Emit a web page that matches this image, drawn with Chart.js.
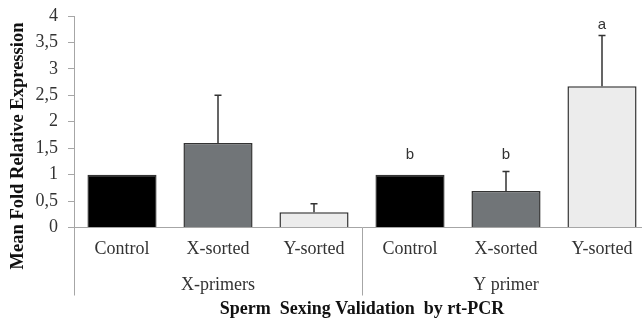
<!DOCTYPE html>
<html>
<head>
<meta charset="utf-8">
<script src="https://cdn.jsdelivr.net/npm/chart.js@4"></script>
<style>
  html, body { margin: 0; padding: 0; background: #fff; overflow: hidden; }
  #wrap { width: 660px; height: 320px; }
</style>
</head>
<body>
<div id="wrap"><canvas id="pcr_chart"></canvas></div>
<script>
// categories and groups
var categories = ["Control", "X-sorted", "Y-sorted", "Control", "X-sorted", "Y-sorted"];
var groups = ["X-primers", "Y primer"];
var groupSize = 3;

// mean fold relative expression + upper error
var means = [1.0, 1.6, 0.29, 1.0, 0.69, 2.67];
var errors = [0, 0.9, 0.16, 0, 0.37, 0.96];

// significance letters (only on Y primer) and where they sit
var letters = ["", "", "", "b", "b", "a"];
var letterAt = [0, 0, 0, 1.37, 1.37, 3.83];

var barColors = ["#000000", "#717578", "#ececec", "#000000", "#717578", "#ececec"];

var serif = "'Liberation Serif', 'Times New Roman', serif";

// error bars, letters, group labels, separators, y title
var extrasPlugin = {
  id: "extras",
  afterDatasetsDraw: function (chart) {
    var ctx = chart.ctx;
    var x = chart.scales.x, y = chart.scales.y;
    var meta = chart.getDatasetMeta(0);
    ctx.save();
    ctx.strokeStyle = "#333";
    ctx.lineWidth = 1.5;
    meta.data.forEach(function (bar, i) {
      if (!errors[i]) return;
      var top = y.getPixelForValue(means[i] + errors[i]);
      var base = y.getPixelForValue(means[i]);
      ctx.beginPath();
      ctx.moveTo(bar.x, base);
      ctx.lineTo(bar.x, top);
      ctx.moveTo(bar.x - 3.5, top);
      ctx.lineTo(bar.x + 3.5, top);
      ctx.stroke();
    });
    ctx.fillStyle = "#333";
    ctx.font = "15px 'Liberation Sans', Arial, sans-serif";
    ctx.textAlign = "center";
    ctx.textBaseline = "middle";
    meta.data.forEach(function (bar, i) {
      if (letters[i]) ctx.fillText(letters[i], bar.x, y.getPixelForValue(letterAt[i]));
    });

    // group separators and labels
    var step = x.getPixelForValue(1) - x.getPixelForValue(0);
    ctx.strokeStyle = "#a6a6a6";
    ctx.lineWidth = 1;
    ctx.fillStyle = "#333";
    ctx.font = "18px " + serif;
    groups.forEach(function (g, gi) {
      var left = x.getPixelForValue(gi * groupSize) - step / 2;
      var right = left + step * groupSize;
      ctx.beginPath();
      ctx.moveTo(Math.round(left) + 0.5, y.bottom);
      ctx.lineTo(Math.round(left) + 0.5, y.bottom + 68);
      ctx.stroke();
      ctx.fillText(g, (left + right) / 2, y.bottom + 58);
    });

    // y axis title, sits a bit lower than the plot centre
    ctx.translate(18, 146);
    ctx.rotate(-Math.PI / 2);
    ctx.fillStyle = "#111";
    ctx.font = "bold 18.5px " + serif;
    ctx.fillText("Mean Fold Relative Expression", 0, 0);
    ctx.restore();
  }
};

new Chart(document.getElementById("pcr_chart"), {
  type: "bar",
  data: {
    labels: categories,
    datasets: [{
      data: means,
      backgroundColor: barColors,
      borderColor: "#333",
      borderWidth: 1.5,
      categoryPercentage: 1,
      barPercentage: 0.72
    }]
  },
  options: {
    responsive: true,
    maintainAspectRatio: false,
    animation: false,
    layout: { padding: { top: 16, right: 10, bottom: 0, left: 0 } },
    plugins: { legend: { display: false }, tooltip: { enabled: false } },
    scales: {
      x: {
        grid: { display: false, drawTicks: false },
        border: { color: "#a6a6a6", width: 1 },
        ticks: { color: "#333", font: { family: serif, size: 18 }, padding: 11, maxRotation: 0, autoSkip: false },
        title: {
          display: true,
          text: "Sperm  Sexing Validation  by rt-PCR",
          color: "#111",
          font: { family: serif, size: 18, weight: "bold" },
          padding: { top: 0, bottom: 0 }
        },
        afterFit: function (s) { s.height = 92.5; s.paddingLeft = 0; s.paddingRight = 0; }
      },
      y: {
        min: 0,
        max: 4,
        grid: { drawOnChartArea: false, drawTicks: true, tickLength: 6, color: "#a6a6a6" },
        border: { color: "#a6a6a6", width: 1 },
        ticks: {
          stepSize: 0.5,
          padding: 10,
          color: "#333",
          font: { family: serif, size: 18 },
          callback: function (v) { return String(v).replace(".", ","); }
        },
        afterFit: function (s) { s.width = 74; s.paddingTop = 0; s.paddingBottom = 0; }
      }
    }
  },
  plugins: [extrasPlugin]
});
</script>
</body>
</html>
